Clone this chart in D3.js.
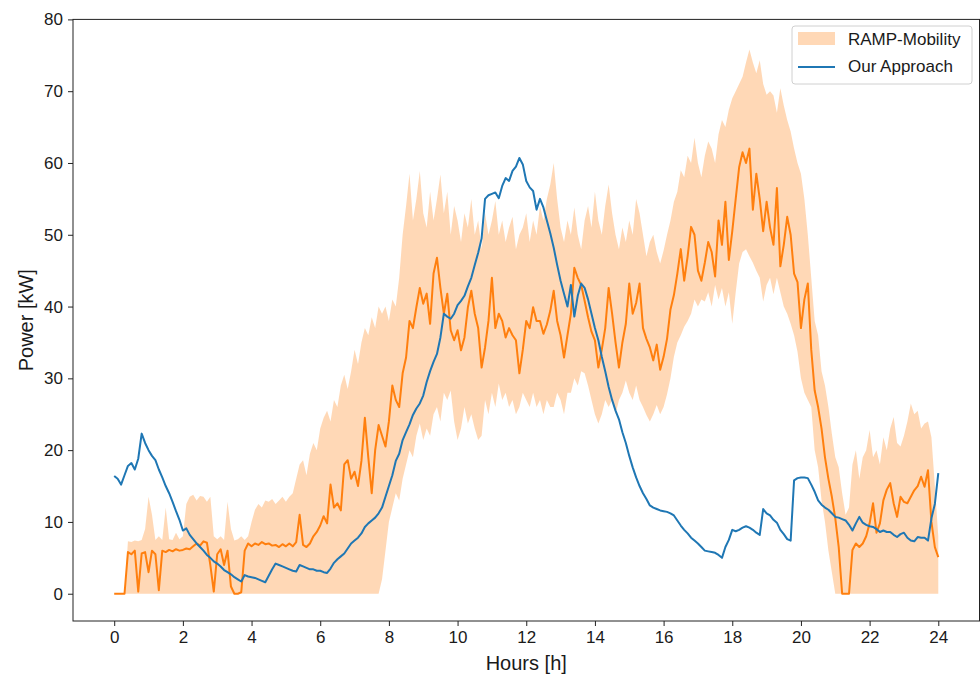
<!DOCTYPE html>
<html>
<head>
<meta charset="utf-8">
<script src="https://cdn.jsdelivr.net/npm/d3@7"></script>
<style>
  html, body { margin: 0; padding: 0; background: #ffffff; }
  svg { display: block; font-family: "Liberation Sans", Arial, Helvetica, sans-serif; }
</style>
</head>
<body>
<svg id="chart" width="980" height="677"></svg>
<script>
// ---------------- DATA (0.1 h resolution) ----------------
const timeStep = 0.1; // hours between samples, 0 .. 24 h
const xTicks = [0, 2, 4, 6, 8, 10, 12, 14, 16, 18, 20, 22, 24];
const yTicks = [0, 10, 20, 30, 40, 50, 60, 70, 80];

// RAMP-Mobility mean (orange line)
const rampMean = [
  0,0,0,0,5.8,5.5,6,0.3,5.6,5.8,
  3,6,5.5,0.5,6,5.8,6.1,5.9,6.2,6,
  6.1,6.3,6.2,6.6,7,6.7,7.3,7.1,4,0.3,
  5.5,6.2,4,6,1,0,0,0.2,6,7,
  6.6,7,6.8,7.2,6.9,7,6.7,6.8,6.5,6.9,
  6.6,7,6.6,7.2,11,6.8,6.5,7,8,8.6,
  9.5,10.8,9.8,15.2,12,12.6,11.6,18,18.6,16,
  17,15,18.5,24.5,19,14,20,23.5,22,20.5,
  24,29,27,26,30.7,32.9,38,37,39.9,42.6,
  40.4,41.8,37.6,44.6,46.8,42.6,39,41.8,36.7,35.3,
  36.7,33.9,35.7,39.9,42.2,39,37,31.5,34.3,38,
  44,37,39,38,35.7,37,36,35.3,30.7,34,
  38,37,39.9,38,38,36.2,37.5,39.4,42.2,38,
  36,32.9,36,39,45.4,44,43,40.8,38.5,36.5,
  35.3,31.5,34,37,42.6,39,35,31.5,35,37.6,
  43.2,39,40.5,43.2,37,35.5,34.3,32.5,34.7,31.2,
  33,35.5,39.6,41.6,44.6,48,43.6,47,51.1,50,
  45,43.6,46.1,49,47.6,44.2,52,48.6,54.6,46.5,
  50.5,55,59.4,61.5,60,62,53.5,58.5,55,50.5,
  54.6,51,48.6,56.5,45.6,48.6,52.5,50,44.6,43.4,
  37,41,43.2,34,28.3,26,23,19,16,13.5,
  10.5,6.5,0,0,0,6.1,7,6.5,7,8,
  9.8,12.6,8.5,9.8,13,14.5,15.4,12.6,10.7,13.5,
  12.8,12.6,13.5,14.4,15,16.3,14.9,17.2,10,6.5,
  5.1
];

// RAMP-Mobility upper edge of shaded band
const rampUpper = [
  0,0,0,0,7.3,7.2,7.4,7.3,7.5,9,
  13.5,11,7.5,8,7.5,12,7.6,7.5,8.5,7.6,
  8,12.5,13.5,13.8,13,13.6,13.5,12.8,13.5,8,
  7.6,8,7.5,12.8,9,7.4,7.6,8,7.5,8,
  10,11.7,12.5,12,13,12.8,13.2,12.5,13,13.5,
  12.8,13.5,14,16,18,18.6,16.5,19.5,21,20,
  23,24.5,25.5,24,27,26,29,30.5,28.5,31,
  34,32,35,37,36,38.5,37,40,39,40,
  38,41,40,44,50,54,58.5,52,55,58.9,
  53,51,56,52,55,58.4,53,56,50,54,
  52,49,53,51,55,50,52,48,53,50,
  52,54.7,50,52,49,51,52.5,48,50,51,
  53,49,52,50,54,52,55,57,60,55,
  51,49,52,50,53.8,50,48,52,54,51,
  56,52,50,54,57,53,50,48,51,49,
  52,50,55,53,50,47,49,50,47.6,46,
  47.8,50,52,54.6,56,59,58,61,60,63.5,
  60,58,61,63,62,60,64,66,65,67.4,
  69,70,71,72,74,75.8,74,72.5,74.3,71,
  69.5,70,69.4,67,70.4,68,66,64.4,62,60,
  58.5,55,50,44,38,36,31,29,26,22.3,
  19,17.6,14,11,12,18,20,16,19,20,
  22.8,19,20,18,21.8,20,23,24.6,21,20.5,
  22,24,26.5,25,25.5,23,23.7,24,21.8,15,
  8
];

// RAMP-Mobility lower edge of shaded band
const rampLower = [
  0,0,0,0,0,0,0,0,0,0,
  0,0,0,0,0,0,0,0,0,0,
  0,0,0,0,0,0,0,0,0,0,
  0,0,0,0,0,0,0,0,0,0,
  0,0,0,0,0,0,0,0,0,0,
  0,0,0,0,0,0,0,0,0,0,
  0,0,0,0,0,0,0,0,0,0,
  0,0,0,0,0,0,0,0,2,6,
  10,12,14,13,16,18,20,19,22,23.7,
  21.4,23,22,25,26,24,28,27,28.3,24,
  21.4,23,26,23.7,25,23,21.4,22,27,25,
  28,26,29.3,27,28,26,27,25,26,28,
  27,26,28,26,27,25,27,26,26,28,
  27,25,28,28,30,29,31,30.7,29,27,
  25,23.7,25,27,26,27,25,27,28,29.7,
  28,27,29,27,26,24.9,24,25,26.3,25,
  26,27.8,30,33,35,36,37.2,38,39,41,
  40,41,40.7,42,40,43,41,42.6,40,42,
  37.6,42,46,47.6,48,47,46.1,45,44,40.7,
  43,44,41.7,44,42,40,39,37.6,36,33.7,
  30,28,27,26,20,17.6,13,10,6,3,
  0,0,0,0,0,0,0,0,0,0,
  0,0,0,0,0,0,0,0,0,0,
  0,0,0,0,0,0,0,0,0,0,
  0
];

// Our Approach (blue line)
const ourApproach = [
  16.4,16,15.2,16.5,17.8,18.2,17.3,18.8,22.3,21,
  20,19.2,18.6,17.3,16.2,15,14,12.8,11.5,10.3,
  8.8,9.1,8.2,7.6,7,6.5,6,5.4,5,4.5,
  4.2,3.8,3.3,3,2.7,2.3,2,1.7,2.6,2.4,
  2.3,2.2,2,1.8,1.6,2.5,3.4,4.2,4,3.8,
  3.6,3.4,3.2,3.1,4,3.8,3.6,3.4,3.4,3.2,
  3.2,3,2.9,3.5,4.3,4.8,5.2,5.6,6.3,7,
  7.4,7.8,8.4,9.3,9.8,10.2,10.6,11.2,12,13.5,
  15,16.5,18.5,19.5,21.4,22.5,23.6,24.9,25.8,26.5,
  27.6,29.5,31,32.3,33.4,35.7,39,38.6,38.3,39,
  40.2,40.8,41.5,42.8,44,45.8,47.5,49.5,55,55.5,
  55.7,55.9,55.1,56.8,57.9,57.5,58.9,59.5,60.7,59.8,
  57.5,56.6,56.1,53.5,55,53.8,52,50.2,48.2,45.8,
  43.6,41.8,40,43,38.6,41.5,43.2,42.6,41,39,
  37,35.3,33,31,28.8,27,25.5,24.3,22.5,21,
  19.2,17.6,16.2,15,14,13.2,12.3,12,11.8,11.6,
  11.5,11.4,11.2,10.9,10.2,9.5,8.9,8.4,7.8,7.4,
  7,6.5,6,5.9,5.8,5.7,5.4,5,6.5,7.5,
  8.9,8.7,8.9,9.2,9.4,9.2,8.9,8.5,8.2,11.8,
  11.2,10.9,10.3,9.9,8.9,8.3,7.6,7.4,15.8,16.1,
  16.2,16.2,16.1,15.2,14.2,13,12.4,12,11.7,11.2,
  10.7,10.6,10.4,10.2,9.6,8.8,9.8,10.7,9.9,9.6,
  9.4,9.3,9,8.6,8.8,8.6,8.6,8.2,7.9,8.3,
  8.5,7.8,7.4,7.3,7.9,7.8,7.8,7.4,10.5,12.5,
  16.8
];

const legendLabels = ["RAMP-Mobility", "Our Approach"];
const xLabel = "Hours [h]";
const yLabel = "Power [kW]";

// ---------------- CHART ----------------
const hours = rampMean.map((_, i) => +(i * timeStep).toFixed(1));

const svg = d3.select("#chart");
const plot = { left: 73, right: 979.5, top: 19.4, bottom: 621 };

const x = d3.scaleLinear().domain([-1.2, 25.2]).range([plot.left, plot.right]);
const y = d3.scaleLinear().domain([-3.8, 80]).range([plot.bottom, plot.top]);

const orange = "#ff7f0e";
const blue = "#1f77b4";

svg.append("rect").attr("width", 980).attr("height", 677).attr("fill", "#ffffff");

const clip = svg.append("defs").append("clipPath").attr("id", "clip")
  .append("rect")
  .attr("x", plot.left).attr("y", plot.top)
  .attr("width", plot.right - plot.left).attr("height", plot.bottom - plot.top);

const g = svg.append("g").attr("clip-path", "url(#clip)");

// shaded band
const band = d3.area()
  .x((d, i) => x(hours[i]))
  .y0((d, i) => y(rampLower[i]))
  .y1((d, i) => y(rampUpper[i]));
g.append("path")
  .datum(rampMean)
  .attr("d", band)
  .attr("fill", orange)
  .attr("fill-opacity", 0.3)
  .attr("stroke", "none");

// orange mean line
const line = d3.line().x((d, i) => x(hours[i])).y(d => y(d));
g.append("path")
  .datum(rampMean)
  .attr("d", line)
  .attr("fill", "none")
  .attr("stroke", orange)
  .attr("stroke-width", 2)
  .attr("stroke-linejoin", "round");

// blue line
g.append("path")
  .datum(ourApproach)
  .attr("d", line)
  .attr("fill", "none")
  .attr("stroke", blue)
  .attr("stroke-width", 2)
  .attr("stroke-linejoin", "round");

// axes
const xAxis = d3.axisBottom(x).tickValues(xTicks).tickSize(5).tickPadding(5).tickFormat(d3.format("d"));
const yAxis = d3.axisLeft(y).tickValues(yTicks).tickSize(5).tickPadding(5).tickFormat(d3.format("d"));

const gx = svg.append("g").attr("transform", `translate(0,${plot.bottom})`).call(xAxis);
const gy = svg.append("g").attr("transform", `translate(${plot.left},0)`).call(yAxis);
[gx, gy].forEach(a => {
  a.select(".domain").remove();
  a.selectAll("line").attr("stroke", "#222").attr("stroke-width", 1);
  a.selectAll("text").attr("fill", "#1a1a1a").style("font-size", "17px")
    .style("font-family", "'Liberation Sans', Arial, sans-serif");
});

// frame
svg.append("rect")
  .attr("x", plot.left).attr("y", plot.top)
  .attr("width", plot.right - plot.left).attr("height", plot.bottom - plot.top)
  .attr("fill", "none").attr("stroke", "#222").attr("stroke-width", 1);

// axis labels
svg.append("text")
  .attr("x", (plot.left + plot.right) / 2).attr("y", 670)
  .attr("text-anchor", "middle")
  .attr("fill", "#1a1a1a")
  .style("font-size", "20px")
  .text(xLabel);

svg.append("text")
  .attr("transform", `translate(33,${(plot.top + plot.bottom) / 2}) rotate(-90)`)
  .attr("text-anchor", "middle")
  .attr("fill", "#1a1a1a")
  .style("font-size", "20px")
  .text(yLabel);

// legend
const lg = svg.append("g").attr("transform", "translate(792,26)");
lg.append("rect")
  .attr("x", 0).attr("y", 0).attr("width", 180).attr("height", 58)
  .attr("rx", 3).attr("ry", 3)
  .attr("fill", "#ffffff").attr("fill-opacity", 0.8)
  .attr("stroke", "#d0d0d0").attr("stroke-width", 1);
lg.append("rect")
  .attr("x", 6).attr("y", 6).attr("width", 37).attr("height", 13)
  .attr("fill", orange).attr("fill-opacity", 0.3);
lg.append("line")
  .attr("x1", 6).attr("x2", 43).attr("y1", 41).attr("y2", 41)
  .attr("stroke", blue).attr("stroke-width", 2);
lg.selectAll("text.leg")
  .data(legendLabels)
  .enter().append("text")
  .attr("class", "leg")
  .attr("x", 56)
  .attr("y", (d, i) => 19 + i * 27)
  .attr("fill", "#1a1a1a")
  .style("font-size", "17px")
  .text(d => d);
</script>
</body>
</html>
